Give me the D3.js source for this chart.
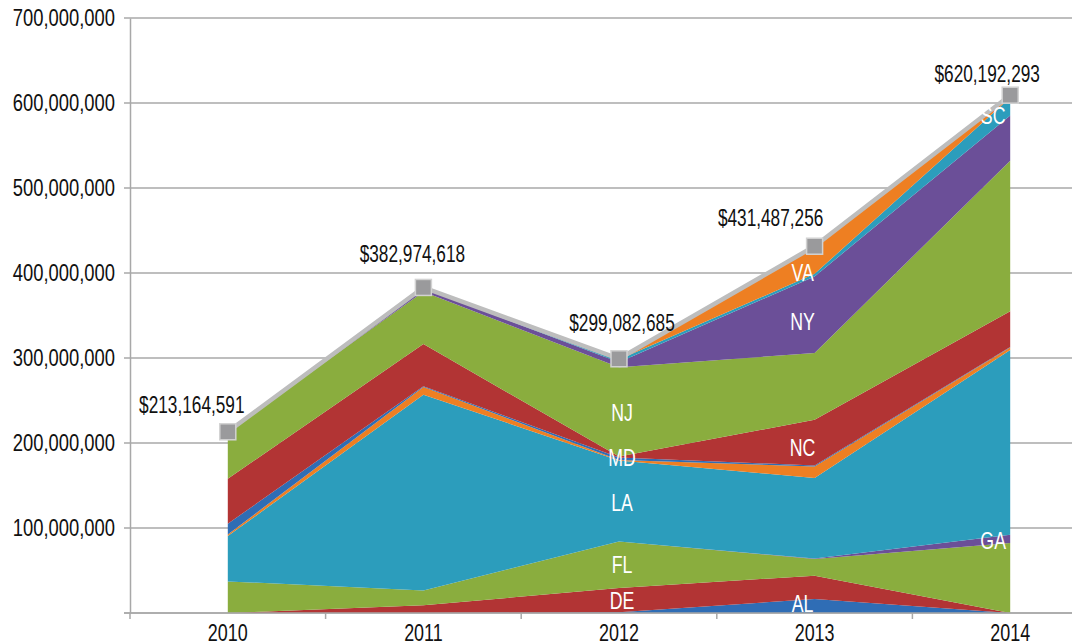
<!DOCTYPE html>
<html>
<head>
<meta charset="utf-8">
<script src="https://cdn.jsdelivr.net/npm/d3@7"></script>
<style>
  html, body { margin: 0; padding: 0; background: #ffffff; overflow: hidden; }
  svg { display: block; }
  text { font-family: "Liberation Sans", Arial, "DejaVu Sans", sans-serif; }
</style>
</head>
<body>
<svg id="chart" width="1072" height="644"></svg>
<script>
// ---- data (values in millions of dollars) ----
const years = ["2010", "2011", "2012", "2013", "2014"];
const states = ["AL", "DE", "FL", "GA", "LA", "MA", "MD", "NC", "NJ", "NY", "SC", "VA"];

const AL = [0, 0, 1, 16.5, 0];
const DE = [0, 9, 28.4, 27.4, 0];
const FL = [37.2, 17.6, 54.8, 19.6, 82.4];
const GA = [0, 0, 0, 0.5, 9.7];
const LA = [53.3, 230.2, 95.3, 94.8, 217.3];
const MA = [2, 9.1, 0.5, 13.7, 3];
const MD = [12.5, 1, 3, 1, 0.5];
const NC = [53, 49.5, 1, 53.9, 42];
const NJ = [55.2, 61.6, 105.1, 78.5, 177.3];
const NY = [0, 4, 6, 90.1, 53];
const SC = [0, 0.5, 3, 3, 21];
const VA = [0, 0.5, 1, 32.5, 3];

const totals = [213164591, 382974618, 299082685, 431487256, 620192293];
const yTicks = [0, 100, 200, 300, 400, 500, 600, 700];

// which year each state label sits on (null = no label)
const labelYear = ["2013", "2012", "2012", "2014", "2012", null, "2012", "2013", "2012", "2013", "2014", "2013"];

// ---- layout / style ----
const colors = {
  AL: "#2f6db5", DE: "#b23434", FL: "#8aad3e", GA: "#6b4f98", LA: "#2c9dbc", MA: "#ee7f22",
  MD: "#2f6db5", NC: "#b23434", NJ: "#8aad3e", NY: "#6b4f98", SC: "#2c9dbc", VA: "#ee7f22"
};
const labelDx = { "2012": 3, "2013": -12, "2014": -17 };
const stateDy = { AL: -3, DE: 0, FL: 0, GA: 2, LA: 1, MD: -1, NC: 5, NJ: 0, NY: 7, SC: 9, VA: 12 };
const totalDx = [-36, -11, 3, -44, -23];
const totalDy = [-19, -25, -28, -20, -13];
const FS = 23;
const SX_TICK = 0.8, SX_TOTAL = 0.75, SX_YEAR = 0.78, SX_STATE = 0.74;

const seriesData = { AL, DE, FL, GA, LA, MA, MD, NC, NJ, NY, SC, VA };
const table = years.map((yr, i) => {
  const row = { year: yr };
  states.forEach(s => row[s] = seriesData[s][i]);
  return row;
});

const svg = d3.select("#chart");
const mLeft = 130, mRight = 1108, mTop = 18, mBottom = 613;

const xBand = d3.scaleBand().domain(years).range([mLeft, mRight]);
const xp = d => xBand(d) + xBand.bandwidth() / 2;
const y = d3.scaleLinear().domain([0, 700]).range([mBottom, mTop]);

function place(sel, fx, fy, sx) {
  return sel.attr("transform", (d, i) => `translate(${fx(d, i)},${fy(d, i)}) scale(${sx},1)`);
}

// gridlines
svg.append("g").selectAll("line").data(yTicks).join("line")
  .attr("x1", mLeft - 6).attr("x2", 1072)
  .attr("y1", d => y(d)).attr("y2", d => y(d))
  .attr("stroke", "#a8a8a8").attr("stroke-width", 1.5);

// y axis line
const yAxis = svg.append("g").attr("transform", `translate(${mLeft},0)`)
  .call(d3.axisLeft(y).tickValues([]).tickSize(0));
yAxis.select(".domain").attr("stroke", "#a8a8a8").attr("stroke-width", 1.5);

// y tick labels
place(svg.append("g").selectAll("text").data(yTicks.filter(d => d > 0)).join("text"),
  d => mLeft - 15, d => y(d), SX_TICK)
  .attr("dy", "0.36em")
  .attr("text-anchor", "end").attr("font-size", FS).attr("fill", "#111")
  .text(d => d3.format(",")(d * 1e6));

// stacked areas
const stack = d3.stack().keys(states);
const layers = stack(table);
const area = d3.area()
  .x(d => xp(d.data.year))
  .y0(d => y(d[0]))
  .y1(d => y(d[1]));

svg.append("g").selectAll("path").data(layers).join("path")
  .attr("d", area)
  .attr("fill", d => colors[d.key]);

// bottom axis
svg.append("line").attr("x1", mLeft - 6).attr("x2", 1072).attr("y1", mBottom).attr("y2", mBottom)
  .attr("stroke", "#a8a8a8").attr("stroke-width", 1.5);
const bounds = years.map(yv => xBand(yv));
svg.append("g").selectAll("line").data(bounds).join("line")
  .attr("x1", d => d).attr("x2", d => d).attr("y1", mBottom).attr("y2", mBottom + 6)
  .attr("stroke", "#a8a8a8").attr("stroke-width", 1.5);
place(svg.append("g").selectAll("text").data(years).join("text"),
  d => xp(d), d => 641, SX_YEAR)
  .attr("text-anchor", "middle").attr("font-size", FS).attr("fill", "#111")
  .text(d => d);

// total line along stack top
const topLayer = layers[layers.length - 1];
const line = d3.line().x(d => xp(d.data.year)).y(d => y(d[1]));
svg.append("path").datum(topLayer).attr("d", line)
  .attr("fill", "none").attr("stroke", "#bdbdbd").attr("stroke-width", 4.5)
  .attr("stroke-linejoin", "miter");

// markers
svg.append("g").selectAll("rect").data(topLayer).join("rect")
  .attr("x", d => xp(d.data.year) - 8).attr("y", d => y(d[1]) - 8)
  .attr("width", 16).attr("height", 16)
  .attr("fill", "#9a9a9c").attr("stroke", "#d2d2d2").attr("stroke-width", 1.5);

// total labels
place(svg.append("g").selectAll("text").data(topLayer).join("text"),
  (d, i) => xp(d.data.year) + totalDx[i], (d, i) => y(d[1]) + totalDy[i], SX_TOTAL)
  .attr("text-anchor", "middle").attr("font-size", FS).attr("fill", "#111")
  .text((d, i) => "$" + d3.format(",")(totals[i]));

// state labels
const labels = [];
layers.forEach((layer, si) => {
  const yr = labelYear[si];
  if (!yr) return;
  const pt = layer[years.indexOf(yr)];
  labels.push({
    key: layer.key,
    x: xp(yr) + labelDx[yr],
    y: y((pt[0] + pt[1]) / 2) + stateDy[layer.key]
  });
});
place(svg.append("g").selectAll("text").data(labels).join("text"),
  d => d.x, d => d.y, SX_STATE)
  .attr("dy", "0.36em")
  .attr("text-anchor", "middle").attr("font-size", 24).attr("fill", "#ffffff")
  .text(d => d.key);
</script>
</body>
</html>
